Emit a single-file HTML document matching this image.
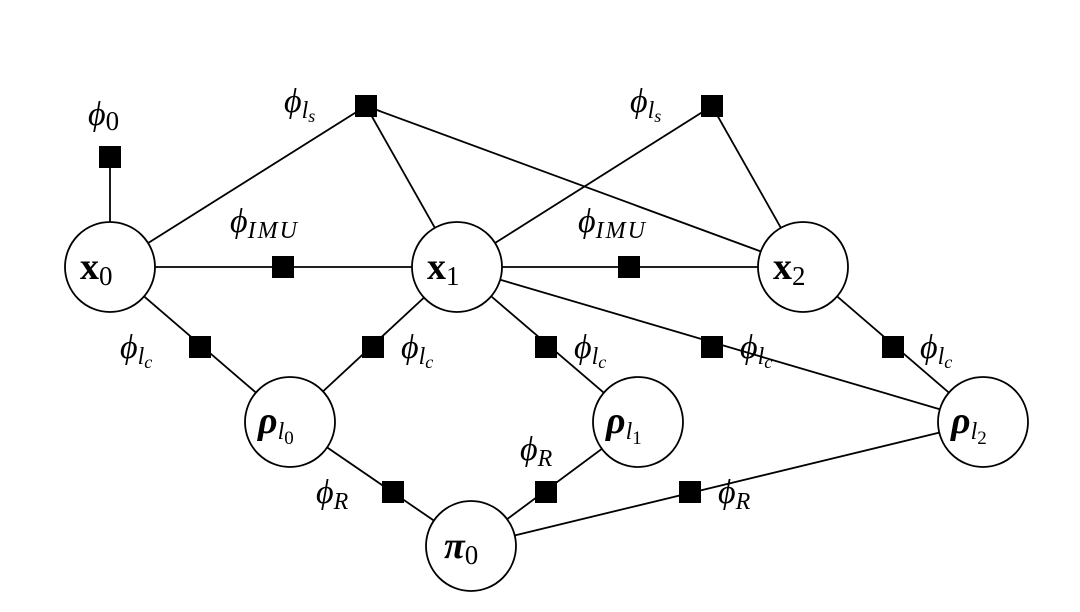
<!DOCTYPE html>
<html><head><meta charset="utf-8"><style>
html,body{margin:0;padding:0;background:#fff}
svg text{font-family:"Liberation Serif",serif}
.l{font-style:italic;font-size:34px}
.s{font-style:italic;font-size:24px}
.n{font-size:38px;font-weight:bold}
.sub{font-size:27px}
</style></head><body>
<svg width="1080" height="607" viewBox="0 0 1080 607" xmlns="http://www.w3.org/2000/svg">
<g stroke="#000" stroke-width="1.8" fill="none">
<line x1="110" y1="157" x2="110" y2="267"/>
<line x1="110" y1="267" x2="366" y2="106"/>
<line x1="457" y1="267" x2="366" y2="106"/>
<line x1="803" y1="267" x2="366" y2="106"/>
<line x1="457" y1="267" x2="712" y2="106"/>
<line x1="803" y1="267" x2="712" y2="106"/>
<line x1="110" y1="267" x2="803" y2="267"/>
<line x1="110" y1="267" x2="290" y2="422"/>
<line x1="457" y1="267" x2="290" y2="422"/>
<line x1="457" y1="267" x2="638" y2="422"/>
<line x1="457" y1="267" x2="983" y2="422"/>
<line x1="803" y1="267" x2="983" y2="422"/>
<line x1="290" y1="422" x2="471" y2="546"/>
<line x1="638" y1="422" x2="471" y2="546"/>
<line x1="983" y1="422" x2="471" y2="546"/>
</g>
<g fill="#000">
<rect x="99" y="146" width="22" height="22"/>
<rect x="355" y="95" width="22" height="22"/>
<rect x="701" y="95" width="22" height="22"/>
<rect x="272" y="256" width="22" height="22"/>
<rect x="618" y="256" width="22" height="22"/>
<rect x="189" y="336" width="22" height="22"/>
<rect x="362" y="336" width="22" height="22"/>
<rect x="535" y="336" width="22" height="22"/>
<rect x="701" y="336" width="22" height="22"/>
<rect x="882" y="336" width="22" height="22"/>
<rect x="382" y="481" width="22" height="22"/>
<rect x="535" y="481" width="22" height="22"/>
<rect x="679" y="481" width="22" height="22"/>
</g>
<g stroke="#000" stroke-width="1.8" fill="#fff">
<circle cx="110" cy="267" r="45"/>
<circle cx="457" cy="267" r="45"/>
<circle cx="803" cy="267" r="45"/>
<circle cx="290" cy="422" r="45"/>
<circle cx="638" cy="422" r="45"/>
<circle cx="983" cy="422" r="45"/>
<circle cx="471" cy="546" r="45"/>
</g>
<g>
<text x="80" y="279" class="n">x<tspan class="sub" font-weight="normal" dy="6">0</tspan></text>
<text x="427" y="279" class="n">x<tspan class="sub" font-weight="normal" dy="6">1</tspan></text>
<text x="773" y="279" class="n">x<tspan class="sub" font-weight="normal" dy="6">2</tspan></text>
<text x="258" y="433" class="n" font-style="italic">ρ<tspan class="s" font-weight="normal" dy="6">l</tspan><tspan font-size="19" font-weight="normal" font-style="normal" dy="5">0</tspan></text>
<text x="606" y="433" class="n" font-style="italic">ρ<tspan class="s" font-weight="normal" dy="6">l</tspan><tspan font-size="19" font-weight="normal" font-style="normal" dy="5">1</tspan></text>
<text x="951" y="433" class="n" font-style="italic">ρ<tspan class="s" font-weight="normal" dy="6">l</tspan><tspan font-size="19" font-weight="normal" font-style="normal" dy="5">2</tspan></text>
<text x="444" y="558" class="n" font-style="italic">π<tspan class="sub" font-weight="normal" font-style="normal" dy="6">0</tspan></text>

<text x="88" y="125" class="l">ϕ<tspan class="sub" font-style="normal" dy="5">0</tspan></text>
<text x="284" y="112" class="l">ϕ<tspan class="s" dy="6">l</tspan><tspan font-size="18" dy="4">s</tspan></text>
<text x="630" y="112" class="l">ϕ<tspan class="s" dy="6">l</tspan><tspan font-size="18" dy="4">s</tspan></text>
<text x="230" y="232" class="l">ϕ<tspan class="s" dy="6" letter-spacing="2">IMU</tspan></text>
<text x="578" y="232" class="l">ϕ<tspan class="s" dy="6" letter-spacing="2">IMU</tspan></text>
<text x="120" y="358" class="l">ϕ<tspan class="s" dy="6">l</tspan><tspan font-size="18" dy="4">c</tspan></text>
<text x="401" y="358" class="l">ϕ<tspan class="s" dy="6">l</tspan><tspan font-size="18" dy="4">c</tspan></text>
<text x="574" y="358" class="l">ϕ<tspan class="s" dy="6">l</tspan><tspan font-size="18" dy="4">c</tspan></text>
<text x="740" y="358" class="l">ϕ<tspan class="s" dy="6">l</tspan><tspan font-size="18" dy="4">c</tspan></text>
<text x="920" y="358" class="l">ϕ<tspan class="s" dy="6">l</tspan><tspan font-size="18" dy="4">c</tspan></text>
<text x="316" y="503" class="l">ϕ<tspan class="s" dy="6">R</tspan></text>
<text x="520" y="460" class="l">ϕ<tspan class="s" dy="6">R</tspan></text>
<text x="718" y="503" class="l">ϕ<tspan class="s" dy="6">R</tspan></text>
</g>
</svg>
</body></html>
